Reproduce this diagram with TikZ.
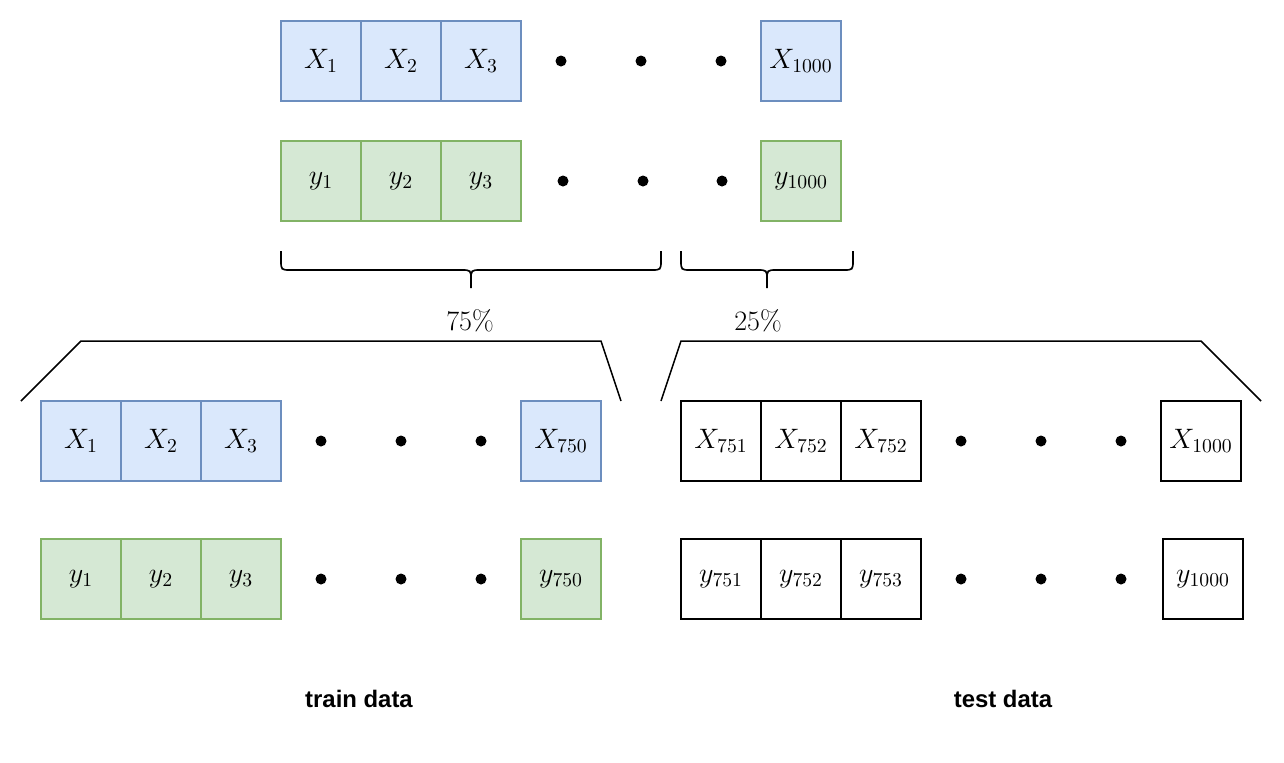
\RequirePackage{fix-cm}
\documentclass[tikz,border=0pt]{standalone}
\usepackage{amsmath}
\usepackage{fontspec}
\usepackage{tikz}
\newfontfamily\captionfont{Liberation Sans}
\definecolor{xfill}{HTML}{DAE8FC}
\definecolor{xline}{HTML}{6C8EBF}
\definecolor{yfill}{HTML}{D5E8D4}
\definecolor{yline}{HTML}{82B366}

\begin{document}
\begin{tikzpicture}[x=0.02cm,y=-0.02cm,
	cell/.style={draw,line width=0.7pt,minimum size=1.6cm,inner sep=0pt,font=\fontsize{16}{19}\selectfont},
	xcell/.style={cell,draw=xline,fill=xfill},
	ycell/.style={cell,draw=yline,fill=yfill},
	dotnode/.style={circle,fill=black,minimum size=0.22cm,inner sep=0pt},
	bracepath/.style={line width=0.95pt},
	pct/.style={font=\fontsize{16}{19}\selectfont},
	caption/.style={font=\captionfont\bfseries\fontsize{13.6}{16}\selectfont}]

	\useasboundingbox (0,0) rectangle (1284,762);

	% Draw full data set
	\path (321,61) node[xcell] (x1) {$X_1$} (401,61) node[xcell] (x2) {$X_2$} (481,61) node[xcell] (x3) {$X_3$}
		(801,61) node[xcell] (xn) {$X_{1000}$};
	\path (561,61) node[dotnode] (xd1) {} (641,61) node[dotnode] (xd2) {} (721,61) node[dotnode] (xd3) {};
	\path (321,181) node[ycell] (y1) {$y_1$} (401,181) node[ycell] (y2) {$y_2$} (481,181) node[ycell] (y3) {$y_3$}
		(801,181) node[ycell] (yn) {$y_{1000}$};
	\path (563,181) node[dotnode] (yd1) {} (643,181) node[dotnode] (yd2) {} (722,181) node[dotnode] (yd3) {};

	% Draw braces
	\draw[bracepath] (281,251) -- (281,260) .. controls (281,270) .. (291,270) -- (461,270) .. controls (471,270) .. (471,280) -- (471,288)
		(471,280) .. controls (471,270) .. (481,270) -- (651,270) .. controls (661,270) .. (661,260) -- (661,251);
	\draw[bracepath] (681,251) -- (681,260) .. controls (681,270) .. (691,270) -- (757,270) .. controls (767,270) .. (767,280) -- (767,288)
		(767,280) .. controls (767,270) .. (777,270) -- (843,270) .. controls (853,270) .. (853,260) -- (853,251);
	\path (470,321) node[pct] (ptrain) {75\%} (758,321) node[pct] (ptest) {25\%};

	% Draw splits
	\draw[line width=0.85pt] (21,401) -- (81,341) -- (601,341) -- (621,401);
	\draw[line width=0.85pt] (661,401) -- (681,341) -- (1201,341) -- (1261,401);

	% Draw train data
	\path (81,441) node[xcell] (tx1) {$X_1$} (161,441) node[xcell] (tx2) {$X_2$} (241,441) node[xcell] (tx3) {$X_3$}
		(561,441) node[xcell] (txn) {$X_{750}$};
	\path (321,441) node[dotnode] (txd1) {} (401,441) node[dotnode] (txd2) {} (481,441) node[dotnode] (txd3) {};
	\path (81,579) node[ycell] (ty1) {$y_1$} (161,579) node[ycell] (ty2) {$y_2$} (241,579) node[ycell] (ty3) {$y_3$}
		(561,579) node[ycell] (tyn) {$y_{750}$};
	\path (321,579) node[dotnode] (tyd1) {} (401,579) node[dotnode] (tyd2) {} (481,579) node[dotnode] (tyd3) {};

	% Draw test data
	\path (721,441) node[cell] (sx1) {$X_{751}$} (801,441) node[cell] (sx2) {$X_{752}$} (881,441) node[cell] (sx3) {$X_{752}$}
		(1201,441) node[cell] (sxn) {$X_{1000}$};
	\path (961,441) node[dotnode] (sxd1) {} (1041,441) node[dotnode] (sxd2) {} (1121,441) node[dotnode] (sxd3) {};
	\path (721,579) node[cell] (sy1) {$y_{751}$} (801,579) node[cell] (sy2) {$y_{752}$} (881,579) node[cell] (sy3) {$y_{753}$}
		(1203,579) node[cell] (syn) {$y_{1000}$};
	\path (961,579) node[dotnode] (syd1) {} (1041,579) node[dotnode] (syd2) {} (1121,579) node[dotnode] (syd3) {};

	% Draw captions
	\path (359,699) node[caption] (train) {train data} (1003,699) node[caption] (test) {test data};

\end{tikzpicture}
\end{document}
